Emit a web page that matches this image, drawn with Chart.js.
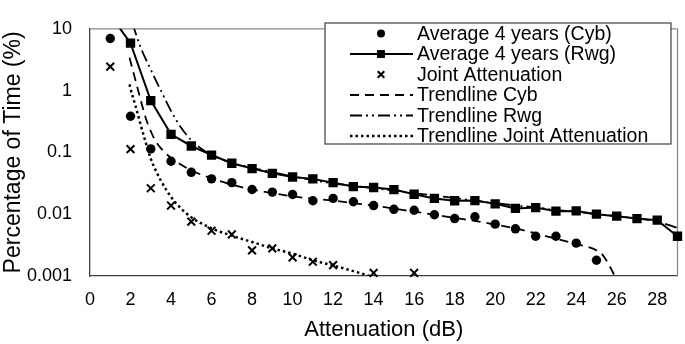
<!DOCTYPE html>
<html lang="en">

<head>
    <meta charset="UTF-8">
    <title>Attenuation</title>
    <script src="https://cdn.jsdelivr.net/npm/chart.js"></script>
    <style>
        html, body { margin: 0; padding: 0; background: #fff; }
    </style>
</head>

<body>
    <canvas id="grafico" width="685" height="344"></canvas>
</body>

</html>
<script>
    // valores
    var attenuation = [1, 2, 3, 4, 5, 6, 7, 8, 9, 10, 11, 12, 13, 14, 15, 16, 17, 18, 19, 20, 21, 22, 23, 24, 25, 26, 27, 28, 29];
    var cybAvg = [6.97, 0.385, 0.114, 0.0718, 0.0476, 0.0373, 0.0324, 0.0251, 0.0228, 0.0208, 0.0165, 0.018, 0.0159,
        0.0138, 0.012, 0.0116, 0.0098, 0.0085, 0.0091, 0.0069, 0.0058, 0.0044, 0.0044, 0.0034, 0.0018];
    var rwgAvg = [16.7, 5.85, 0.69, 0.196, 0.127, 0.0906, 0.0668, 0.0548, 0.0459, 0.040, 0.0373, 0.0324, 0.028, 0.027,
        0.025, 0.021, 0.018, 0.0165, 0.0166, 0.0147, 0.0124, 0.0128, 0.0112, 0.0113, 0.0100, 0.0093, 0.0085, 0.0080, 0.0044];
    var jointX = [1, 2, 3, 4, 5, 6, 7, 8, 9, 10, 11, 12, 14, 16];
    var jointAtt = [2.44, 0.113, 0.0263, 0.0138, 0.0076, 0.0054, 0.0047, 0.0026, 0.0028, 0.0020, 0.0017, 0.0015, 0.00112, 0.00112];

    // trendlines
    var cybTrendX = [1.95, 2, 2.25, 2.5, 2.75, 3, 3.25, 3.5, 4, 4.5, 5, 6, 7, 8, 9, 10, 11, 12, 13, 14, 15, 16, 17, 18, 19,
        20, 21, 22, 23, 24, 24.5, 25, 25.3, 25.6, 25.9, 26.1];
    var cybTrend = [3.4, 2.95, 1.45, 0.71, 0.36, 0.22, 0.15, 0.117, 0.081, 0.063, 0.051, 0.038, 0.030, 0.0251, 0.0219,
        0.0195, 0.0178, 0.0166, 0.0151, 0.0138, 0.0123, 0.011, 0.0098, 0.0087, 0.0078, 0.0068, 0.0059, 0.0049, 0.0040,
        0.0033, 0.0030, 0.0026, 0.0022, 0.00155, 0.001, 0.0007];
    var rwgTrendX = [2.1, 2.5, 3, 3.5, 4, 4.5, 5, 5.5, 6, 7, 8, 9, 10, 11, 12, 13, 14, 15, 16, 17, 18, 19, 20, 21, 22, 23,
        24, 25, 26, 27, 28, 29];
    var rwgTrend = [12, 5.0, 2.19, 1.0, 0.47, 0.25, 0.158, 0.115, 0.091, 0.068, 0.056, 0.048, 0.041, 0.0355, 0.0316,
        0.0288, 0.0263, 0.024, 0.0219, 0.020, 0.0182, 0.0166, 0.0151, 0.0138, 0.0129, 0.0117, 0.011, 0.010, 0.0093,
        0.0085, 0.0076, 0.006];
    var jointTrendX = [1.95, 2, 2.25, 2.5, 2.75, 3, 3.5, 4, 4.5, 5, 6, 7, 8, 9, 10, 11, 12, 13, 13.8];
    var jointTrend = [1.26, 1.07, 0.56, 0.28, 0.145, 0.079, 0.035, 0.019, 0.0123, 0.0089, 0.0059, 0.0045, 0.00355,
        0.0028, 0.0023, 0.0018, 0.00148, 0.0012, 0.001];

    var xTicks = [0, 2, 4, 6, 8, 10, 12, 14, 16, 18, 20, 22, 24, 26, 28];
    var yTicks = [0.001, 0.01, 0.1, 1, 10];

    var fonte = "'Liberation Sans', Arial, sans-serif";

    function pares(xs, ys) {
        var r = [];
        for (var i = 0; i < ys.length; i++) {
            r.push({ x: xs[i], y: ys[i] });
        }
        return r;
    }

    // moldura cinza em cima e na direita
    var moldura = {
        id: 'moldura',
        beforeDatasetsDraw: function (chart) {
            var a = chart.chartArea;
            var ctx = chart.ctx;
            ctx.save();
            ctx.strokeStyle = '#8a8a8a';
            ctx.lineWidth = 1.3;
            ctx.beginPath();
            ctx.moveTo(a.left, a.top);
            ctx.lineTo(a.right, a.top);
            ctx.lineTo(a.right, a.bottom);
            ctx.stroke();
            ctx.restore();
        }
    };

    // legenda no estilo do Excel (linha + marcador)
    var legenda = {
        id: 'legenda',
        afterDraw: function (chart) {
            var ctx = chart.ctx;
            var box = { left: 325, top: 23, right: 671, bottom: 144 };
            var linha0 = 33.5, passo = 20.5;
            ctx.save();
            ctx.fillStyle = '#fff';
            ctx.fillRect(box.left, box.top, box.right - box.left, box.bottom - box.top);
            ctx.strokeStyle = '#404040';
            ctx.lineWidth = 1.2;
            ctx.strokeRect(box.left, box.top, box.right - box.left, box.bottom - box.top);

            chart.data.datasets.forEach(function (ds, i) {
                var y = linha0 + i * passo;
                if (ds.showLine) {
                    ctx.strokeStyle = ds.borderColor;
                    ctx.lineWidth = ds.borderWidth;
                    ctx.setLineDash(ds.borderDash || []);
                    ctx.beginPath();
                    ctx.moveTo(350, y);
                    ctx.lineTo(413, y);
                    ctx.stroke();
                }
                ctx.setLineDash([]);
                if (ds.pointRadius > 0) {
                    ctx.fillStyle = '#000';
                    ctx.strokeStyle = '#000';
                    ctx.lineWidth = ds.pointBorderWidth;
                    Chart.helpers.drawPoint(ctx, {
                        pointStyle: ds.pointStyle,
                        radius: ds.pointRadius * 0.85,
                        borderWidth: ds.pointBorderWidth,
                        rotation: 0
                    }, 381, y);
                }
                ctx.fillStyle = '#000';
                ctx.font = '19.5px ' + fonte;
                ctx.textAlign = 'left';
                ctx.textBaseline = 'middle';
                ctx.fillText(ds.label, 417, y + 1);
            });
            ctx.restore();
        }
    };

    var marcas = { left: 0, top: 0, right: 8, bottom: 8 };

    var dados = {
        datasets: [{
            label: 'Average 4 years (Cyb)',
            data: pares(attenuation, cybAvg),
            showLine: false,
            pointStyle: 'circle',
            pointRadius: 4.7,
            pointBorderWidth: 0,
            backgroundColor: '#000',
            borderColor: '#000',
            clip: marcas
        }, {
            label: 'Average 4 years (Rwg)',
            data: pares(attenuation, rwgAvg),
            showLine: true,
            borderWidth: 2,
            tension: 0,
            pointStyle: 'rect',
            pointRadius: 6.6,
            pointBorderWidth: 0,
            backgroundColor: '#000',
            borderColor: '#000',
            clip: marcas
        }, {
            label: 'Joint Attenuation',
            data: pares(jointX, jointAtt),
            showLine: false,
            pointStyle: 'crossRot',
            pointRadius: 5.5,
            pointBorderWidth: 2,
            backgroundColor: '#000',
            borderColor: '#000',
            clip: marcas
        }, {
            label: 'Trendline Cyb',
            data: pares(cybTrendX, cybTrend),
            showLine: true,
            borderWidth: 1.8,
            borderDash: [9, 6],
            cubicInterpolationMode: 'monotone',
            pointRadius: 0,
            borderColor: '#000',
            clip: 0
        }, {
            label: 'Trendline Rwg',
            data: pares(rwgTrendX, rwgTrend),
            showLine: true,
            borderWidth: 1.8,
            borderDash: [12, 4, 2, 4, 2, 4],
            cubicInterpolationMode: 'monotone',
            pointRadius: 0,
            borderColor: '#000',
            clip: 0
        }, {
            label: 'Trendline Joint Attenuation',
            data: pares(jointTrendX, jointTrend),
            showLine: true,
            borderWidth: 2.5,
            borderDash: [2.5, 3],
            cubicInterpolationMode: 'monotone',
            pointRadius: 0,
            borderColor: '#000',
            clip: 0
        }]
    };

    var options = {
        responsive: false,
        animation: false,
        layout: { padding: { top: 13, right: 5, left: 0, bottom: 0 } },
        plugins: {
            legend: { display: false },
            tooltip: { enabled: false }
        },
        scales: {
            x: {
                type: 'linear',
                min: 0,
                max: 29,
                afterBuildTicks: function (scale) {
                    scale.ticks = xTicks.map(function (v) { return { value: v }; });
                },
                afterFit: function (scale) { scale.height = 68; },
                grid: { display: false, drawTicks: false },
                border: { display: true, color: '#404040', width: 1.3 },
                ticks: { color: '#000', padding: 13, maxRotation: 0, font: { family: fonte, size: 18 } },
                title: {
                    display: true,
                    text: 'Attenuation (dB)',
                    color: '#000',
                    padding: { top: 0, bottom: 1 },
                    font: { family: fonte, size: 22 }
                }
            },
            y: {
                type: 'logarithmic',
                min: 0.001,
                max: 10,
                afterBuildTicks: function (scale) {
                    scale.ticks = yTicks.map(function (v) { return { value: v }; });
                },
                afterFit: function (scale) { scale.width = 90; },
                grid: { display: false, drawTicks: false },
                border: { display: true, color: '#404040', width: 1.3 },
                ticks: {
                    color: '#000',
                    padding: 18,
                    font: { family: fonte, size: 18 },
                    callback: function (v) { return String(v); }
                },
                title: {
                    display: true,
                    text: 'Percentage of Time (%)',
                    color: '#000',
                    padding: { top: 0, bottom: 0 },
                    font: { family: fonte, size: 23 }
                }
            }
        }
    };

    var grafico = new Chart(document.getElementById('grafico'), {
        type: 'line',
        data: dados,
        options: options,
        plugins: [moldura, legenda]
    });
</script>
